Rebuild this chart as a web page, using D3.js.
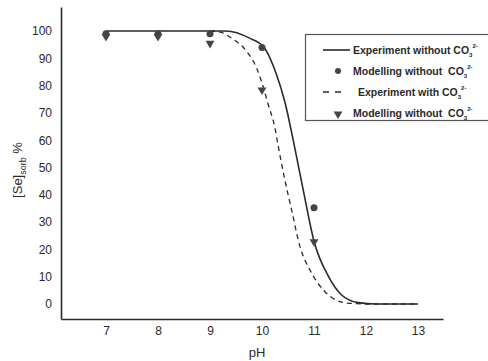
<!DOCTYPE html>
<html>
<head>
<meta charset="utf-8">
<script src="https://cdn.jsdelivr.net/npm/d3@7"></script>
<style>
  body { margin: 0; background: #fff; }
  svg { display: block; font-family: "Liberation Sans", Arial, sans-serif; }
</style>
</head>
<body>
<svg id="chart"></svg>
<script>
// pH tick labels and sorbed Se (%)
const phTicks = [7, 8, 9, 10, 11, 12, 13];
const seTicks = [0, 10, 20, 30, 40, 50, 60, 70, 80, 90, 100];

const expNoCO3Ph = [7, 8, 9, 9.3, 9.77, 10.04, 10.28, 10.44, 10.6, 10.79, 11, 11.28, 11.53, 11.85, 12.2, 13];
const expNoCO3 = [100, 100, 100, 100, 97.3, 94, 84, 74, 60, 42, 23, 10, 3.3, 0.5, 0, 0];

const expCO3Ph = [9, 9.2, 9.42, 9.71, 9.9, 10.04, 10.12, 10.25, 10.31, 10.44, 10.57, 10.73, 10.92, 11.21, 11.5, 11.69, 12, 13];
const expCO3 = [100, 99.6, 97.3, 92.4, 86.3, 78.4, 73, 64.4, 58, 45.4, 34.4, 21, 12.5, 4.5, 0.85, 0.25, 0, 0];

const modelPh = [7, 8, 9, 10, 11];
const modelCircle = [99, 99, 99, 94, 35.3];
const modelTriangle = [98, 98, 95.5, 78.4, 22.8];

const width = 488, height = 361;
const ink = "#2a2a2a";

const svg = d3.select("#chart").attr("width", width).attr("height", height);

const x = d3.scaleLinear().domain([6.135, 13.48]).range([61, 443]);
const y = d3.scaleLinear().domain([-5.5, 108.8]).range([319, 7]);

// Axes
const xAxis = svg.append("g")
  .attr("transform", `translate(0,${y(-5.5)})`)
  .call(d3.axisBottom(x).tickValues(phTicks).tickSize(0).tickPadding(7).tickFormat(d3.format("d")));

const yAxis = svg.append("g")
  .attr("transform", `translate(${x(6.135)},0)`)
  .call(d3.axisLeft(y).tickValues(seTicks).tickSize(0).tickPadding(9).tickFormat(d3.format("d")));

[xAxis, yAxis].forEach(ax => {
  ax.select(".domain").attr("stroke", ink).attr("stroke-width", 1.6);
  ax.selectAll("text")
    .attr("fill", ink)
    .attr("font-size", "12px")
    .attr("font-family", "'Liberation Sans', Arial, sans-serif");
});

// Axis titles
svg.append("text")
  .attr("x", 257).attr("y", 357)
  .attr("text-anchor", "middle")
  .attr("fill", ink)
  .attr("font-size", "13px")
  .text("pH");

const yTitle = svg.append("text")
  .attr("transform", "translate(22,170) rotate(-90)")
  .attr("text-anchor", "middle")
  .attr("fill", ink)
  .attr("font-size", "13px");
yTitle.append("tspan").text("[Se]");
yTitle.append("tspan").attr("font-size", "9px").attr("dy", 4).text("sorb");
yTitle.append("tspan").attr("dy", -4).text(" %");

// Curves
const line = d3.line()
  .x(d => x(d[0]))
  .y(d => y(d[1]))
  .curve(d3.curveMonotoneX);

svg.append("path")
  .datum(d3.zip(expCO3Ph, expCO3))
  .attr("fill", "none")
  .attr("stroke", ink)
  .attr("stroke-width", 1.3)
  .attr("stroke-dasharray", "5,4")
  .attr("d", line);

svg.append("path")
  .datum(d3.zip(expNoCO3Ph, expNoCO3))
  .attr("fill", "none")
  .attr("stroke", ink)
  .attr("stroke-width", 1.6)
  .attr("d", line);

// Markers
const tri = d3.symbol().type(d3.symbolTriangle).size(34);

svg.append("g").selectAll("circle")
  .data(d3.zip(modelPh, modelCircle))
  .join("circle")
  .attr("cx", d => x(d[0]))
  .attr("cy", d => y(d[1]))
  .attr("r", 3.5)
  .attr("fill", "#444");

svg.append("g").selectAll("path")
  .data(d3.zip(modelPh, modelTriangle))
  .join("path")
  .attr("transform", d => `translate(${x(d[0])},${y(d[1])}) rotate(180)`)
  .attr("d", tri)
  .attr("fill", "#444");

// Legend
const legend = svg.append("g");
legend.append("rect")
  .attr("x", 305.5).attr("y", 34.5)
  .attr("width", 190).attr("height", 86)
  .attr("fill", "#fff")
  .attr("stroke", "#555")
  .attr("stroke-width", 1.2);

const legendRows = [
  { label: "Experiment without ", kind: "solid", tx: 353 },
  { label: "Modelling without  ", kind: "circle", tx: 353 },
  { label: "Experiment with ", kind: "dashed", tx: 358 },
  { label: "Modelling without  ", kind: "triangle", tx: 353 }
];
const rowY = [50, 71, 92, 113];

legendRows.forEach((r, i) => {
  const cy = rowY[i];
  if (r.kind === "solid") {
    legend.append("line").attr("x1", 323).attr("x2", 350).attr("y1", cy).attr("y2", cy)
      .attr("stroke", ink).attr("stroke-width", 1.6);
  } else if (r.kind === "dashed") {
    legend.append("line").attr("x1", 323).attr("x2", 341).attr("y1", cy).attr("y2", cy)
      .attr("stroke", ink).attr("stroke-width", 1.3).attr("stroke-dasharray", "6,6");
  } else if (r.kind === "circle") {
    legend.append("circle").attr("cx", 338).attr("cy", cy).attr("r", 3).attr("fill", "#444");
  } else {
    legend.append("path").attr("transform", `translate(338,${cy + 1}) rotate(180)`)
      .attr("d", tri).attr("fill", "#444");
  }
  const t = legend.append("text")
    .attr("x", r.tx).attr("y", cy + 4)
    .attr("fill", ink)
    .attr("font-size", "10.5px")
    .attr("font-weight", "bold")
    .style("white-space", "pre");
  t.append("tspan").text(r.label + "CO");
  t.append("tspan").attr("font-size", "6px").attr("dy", 3).text("3");
  t.append("tspan").attr("font-size", "6px").attr("dy", -9).text("2-");
});
</script>
</body>
</html>
